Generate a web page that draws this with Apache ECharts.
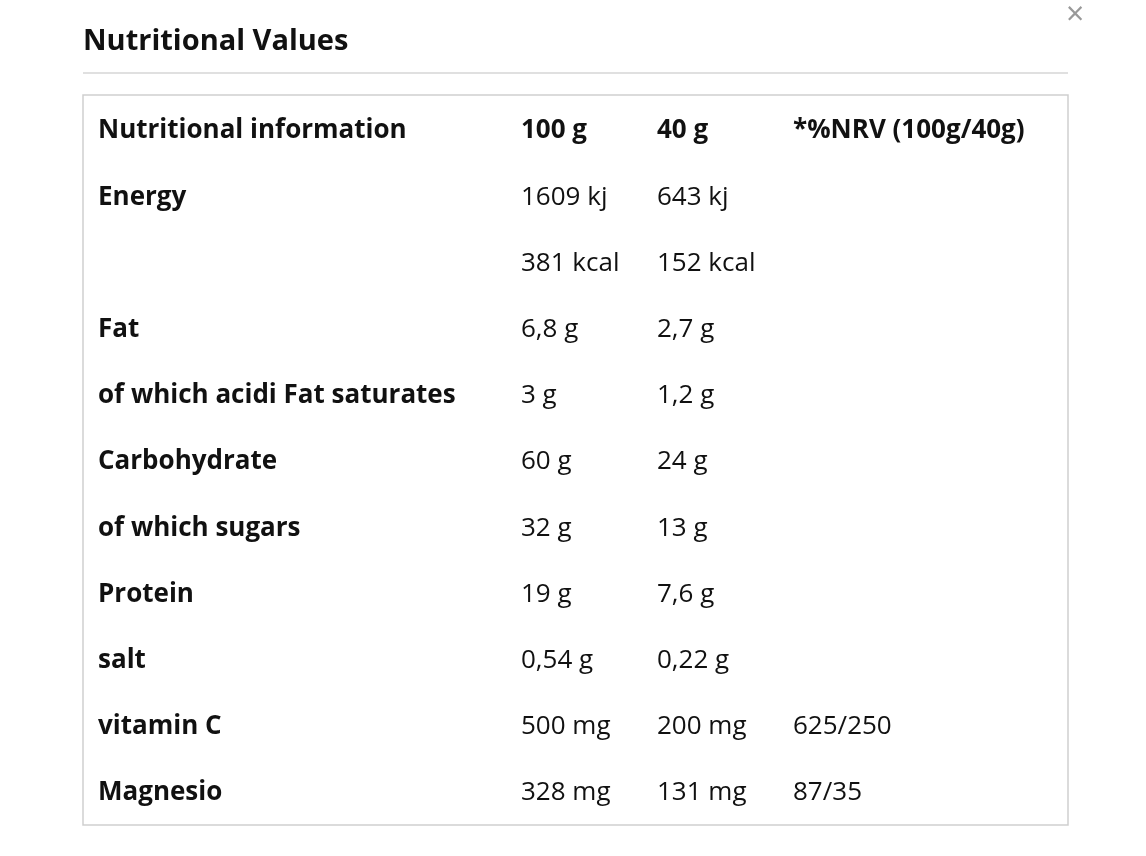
<!DOCTYPE html>
<html><head><meta charset="utf-8">
<script src="https://cdn.jsdelivr.net/npm/echarts@6/dist/echarts.min.js"></script>
<style>html,body{margin:0;padding:0;background:#fff}#c{width:1146px;height:856px}</style>
</head><body><div id="c"></div>
<script>
const title = "Nutritional Values";
const headers = ["Nutritional information", "100 g", "40 g", "*%NRV (100g/40g)"];
const rowLabels = ["Energy", "", "Fat", "of which acidi Fat saturates", "Carbohydrate", "of which sugars", "Protein", "salt", "vitamin C", "Magnesio"];
const per100 = ["1609 kj", "381 kcal", "6,8 g", "3 g", "60 g", "32 g", "19 g", "0,54 g", "500 mg", "328 mg"];
const per40 = ["643 kj", "152 kcal", "2,7 g", "1,2 g", "24 g", "13 g", "7,6 g", "0,22 g", "200 mg", "131 mg"];
const nrv = ["", "", "", "", "", "", "", "", "625/250", "87/35"];

const colX = [98, 521, 657, 793];
const rowY0 = 131, rowStep = 66.2;
const font = '"Open Sans", sans-serif';
const g = [];
g.push({type:'text', left:83, top:27, style:{text:title, font:'bold 29px '+font, fill:'#111'}});
g.push({type:'line', shape:{x1:83,y1:73,x2:1068,y2:73}, style:{stroke:'#d6d6d6', lineWidth:1.5}});
g.push({type:'text', left:1066, top:0, style:{text:'×', font:'32px '+font, fill:'#999'}});
g.push({type:'rect', shape:{x:83,y:95,width:985,height:730}, style:{fill:'none', stroke:'#cfcfcf', lineWidth:1.5}});
headers.forEach((h,i)=>g.push({type:'text', x:colX[i], y:rowY0, style:{text:h, font:'bold 26px '+font, fill:'#111', verticalAlign:'middle'}}));
rowLabels.forEach((r,i)=>{
  const y = rowY0 + rowStep*(i+1);
  const cells = [r, per100[i], per40[i], nrv[i]];
  cells.forEach((t,j)=>{ if(t) g.push({type:'text', x:colX[j], y:y, style:{text:t, font:(j===0?'bold ':'')+'26px '+font, fill:'#111', verticalAlign:'middle'}}); });
});
const chart = echarts.init(document.getElementById('c'));
chart.setOption({animation:false, graphic:g});
</script></body></html>
